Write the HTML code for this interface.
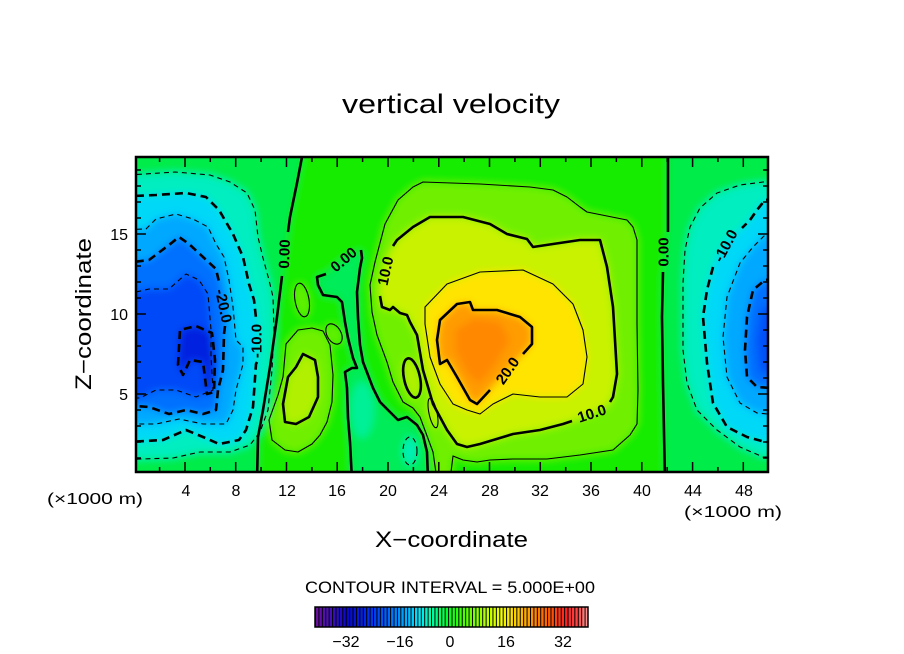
<!DOCTYPE html>
<html><head><meta charset="utf-8"><style>html,body{margin:0;padding:0;background:#fff}svg{display:block}</style></head>
<body>
<svg width="904" height="654" viewBox="0 0 904 654" xmlns="http://www.w3.org/2000/svg" font-family="'Liberation Sans', sans-serif">
<defs>
  <clipPath id="pc"><rect x="136" y="157" width="632" height="315"/></clipPath>
  <filter id="bl" filterUnits="userSpaceOnUse" x="80" y="120" width="760" height="400"><feGaussianBlur stdDeviation="4"/></filter>
  <linearGradient id="cb" x1="0" x2="1" y1="0" y2="0">
    <stop offset="0" stop-color="#7010a0"/><stop offset="0.06" stop-color="#4010b8"/>
    <stop offset="0.12" stop-color="#0808c8"/><stop offset="0.2" stop-color="#0030f0"/>
    <stop offset="0.27" stop-color="#0068ff"/><stop offset="0.33" stop-color="#00a8ff"/>
    <stop offset="0.38" stop-color="#00e8ff"/><stop offset="0.43" stop-color="#00ffa0"/>
    <stop offset="0.49" stop-color="#00ff20"/><stop offset="0.55" stop-color="#50ff00"/>
    <stop offset="0.62" stop-color="#b0ff00"/><stop offset="0.68" stop-color="#f0ff00"/>
    <stop offset="0.72" stop-color="#ffe000"/><stop offset="0.78" stop-color="#ffa000"/>
    <stop offset="0.85" stop-color="#ff6000"/><stop offset="0.92" stop-color="#ff2020"/>
    <stop offset="0.97" stop-color="#ff5050"/><stop offset="1" stop-color="#ffa0a0"/>
  </linearGradient>
  <pattern id="st" width="3.4125" height="20" patternUnits="userSpaceOnUse" x="315" y="607"><rect width="1" height="20" fill="#000"/></pattern>
</defs>

<!-- Title -->
<text x="342" y="113" font-size="27" textLength="218" lengthAdjust="spacingAndGlyphs">vertical velocity</text>

<!-- Field fill -->
<g clip-path="url(#pc)">
 <g filter="url(#bl)">
  <rect x="90" y="130" width="740" height="380" fill="#14ec00"/>
  <polygon fill="#00ec48" points="100,140 304,140 302,157 297,183 290,217 286,250 282,277 277,317 270,367 263,410 258,437 257,490 100,490"/>
  <polygon fill="#00ec48" points="668,140 668,230 663,277 662,317 663,383 665,490 800,490 800,140"/>
  <polygon fill="#00ec58" points="326,274 317,277 318,285 323,295 337,297 342,302 345,322 348,338 353,358 357,368 352,368 345,372 347,388 348,418 350,442 352,490 428,490 427,452 423,435 417,425 407,417 398,420 390,412 380,402 373,388 368,375 363,362 360,345 358,318 357,292 360,268 362,258 361,250 345,258"/>
  <ellipse cx="362" cy="410" rx="12" ry="28" fill="#00f098"/>
  <ellipse cx="410" cy="451" rx="7" ry="14" fill="#00f0b8"/>

  <polygon fill="#00eec0" points="110,176 145,174 175,172 210,175 230,182 247,193 255,210 258,237 263,258 269,280 273,297 274,330 272,370 268,410 260,432 250,445 230,452 200,452 173,458 110,460"/>
  <polygon fill="#00d8f8" points="110,197 156,195 186,193 206,197 219,210 233,234 243,257 249,284 254,300 258,324 258,345 256,364 253,407 246,430 239,440 219,444 203,437 186,430 163,440 110,443"/>
  <polygon fill="#00a8ff" points="110,230 146,229 156,219 176,214 193,219 208,227 216,244 224,257 229,280 233,307 236,340 243,347 243,364 236,390 233,410 226,424 203,424 179,419 156,424 110,424"/>
  <polygon fill="#0070ff" points="110,265 149,260 169,245 179,237 189,244 203,257 216,269 222,287 225,320 224,334 223,370 218,390 216,410 203,414 186,410 169,414 149,407 110,404"/>
  <polygon fill="#0048f8" points="110,298 149,289 169,289 186,274 199,280 208,294 211,330 211,357 213,390 196,397 176,390 156,390 140,398 110,398"/>
  <polygon fill="#0020e0" points="178,365 180,330 196,326 212,333 215,360 214,392 207,394 203,362 190,360 183,375"/>

  <polygon fill="#00eec0" points="800,182 763,182 740,185 717,193 700,208 690,227 685,250 683,283 683,350 687,383 697,410 717,430 740,447 763,457 800,457"/>
  <polygon fill="#00d8f8" points="800,198 765,200 757,210 750,220 740,230 727,240 717,258 713,267 707,290 703,317 707,363 713,403 727,427 747,437 765,442 800,442"/>
  <polygon fill="#00a8ff" points="800,233 765,235 753,247 740,263 727,297 723,337 727,377 740,403 757,413 800,417"/>
  <polygon fill="#0070ff" points="800,278 765,280 753,290 747,317 745,350 747,377 757,387 800,390"/>
  <polygon fill="#0050f8" points="800,300 762,308 756,340 760,372 800,378"/>

  <polygon fill="#70f000" points="385,224 398,200 413,187 423,182 480,184 530,187 553,190 567,197 580,207 587,212 627,220 633,227 637,240 637,324 638,390 637,424 630,435 613,450 580,455 547,459 513,459 490,460 477,462 463,460 453,456 450,480 437,480 433,452 420,417 413,408 403,402 393,382 387,362 377,335 372,312 370,285 375,262"/>
  <polygon fill="#c8f200" points="388,255 397,240 413,227 430,217 463,217 490,224 507,234 527,239 533,247 553,244 580,240 600,240 607,267 613,307 615,340 617,374 613,397 608,405 592,414 575,420 563,424 540,430 513,434 480,444 467,447 457,444 447,430 433,404 423,370 417,335 410,322 407,315 400,313 393,307 390,310 382,307 379,290 383,271"/>
  <polygon fill="#ffe400" points="425,307 447,284 480,272 523,270 553,284 573,304 583,330 587,357 583,384 567,397 540,397 513,394 493,404 480,414 467,410 453,404 440,384 430,357 425,324"/>
  <polygon fill="#ff9c00" points="440,320 457,304 470,302 473,310 497,310 520,317 532,327 532,344 523,354 508,370 490,390 477,404 470,400 457,377 447,360 440,364 437,340"/>
  <polygon fill="#ff8800" points="455,330 475,318 500,322 510,340 495,365 478,385 465,370 455,350"/>

  <polygon fill="#70f000" points="286,344 298,330 312,328 323,331 330,345 333,375 332,402 327,422 320,435 312,444 298,452 285,450 272,440 269,420 278,395 283,377"/>
  <polygon fill="#b0f000" points="303,354 315,360 318,377 318,397 309,417 296,424 285,422 283,404 288,377 296,367"/>
  <ellipse cx="302" cy="300" rx="7" ry="17" transform="rotate(-10 302 300)" fill="#60f000"/>
  <ellipse cx="334" cy="334" rx="7" ry="11" transform="rotate(-30 334 334)" fill="#60f000"/>
  <ellipse cx="412" cy="378" rx="8" ry="20" transform="rotate(-12 412 378)" fill="#b0f000"/>
  <ellipse cx="433" cy="413" rx="4" ry="15" transform="rotate(-12 433 413)" fill="#b8f000"/>
 </g>
</g>

<!-- Contour lines -->
<g clip-path="url(#pc)" fill="none" stroke="#000" stroke-linejoin="round">
  <g stroke-width="1.1" stroke-dasharray="5 4">
    <polygon points="110,176 145,174 175,172 210,175 230,182 247,193 255,210 258,237 263,258 269,280 273,297 274,330 272,370 268,410 260,432 250,445 230,452 200,452 173,458 110,460"/>
    <polygon points="110,230 146,229 156,219 176,214 193,219 208,227 216,244 224,257 229,280 233,307 236,340 243,347 243,364 236,390 233,410 226,424 203,424 179,419 156,424 110,424"/>
    <polygon points="110,298 149,289 169,289 186,274 199,280 208,294 211,330 211,357 213,390 196,397 176,390 156,390 140,398 110,398"/>
    <polygon points="800,182 763,182 740,185 717,193 700,208 690,227 685,250 683,283 683,350 687,383 697,410 717,430 740,447 763,457 800,457"/>
    <polygon points="800,233 765,235 753,247 740,263 727,297 723,337 727,377 740,403 757,413 800,417"/>
    <ellipse cx="410" cy="451" rx="7" ry="14"/>
  </g>
  <g stroke-width="2.6" stroke-dasharray="8 5">
    <polyline points="110,197 156,195 186,193 206,197 219,210 233,234 243,257 249,284 254,300 256,318"/>
    <polyline points="257,362 256,364 253,407 246,430 239,440 219,444 203,437 186,430 163,440 110,443"/>
    <polyline points="110,265 149,260 169,245 179,237 189,244 203,257 216,269 219,282"/>
    <polyline points="225,326 224,334 223,370 218,390 216,410 203,414 186,410 169,414 149,407 110,404"/>
    <polygon points="178,365 180,330 196,326 212,333 215,360 214,392 207,394 203,362 190,360 183,375"/>
    <polyline points="800,198 765,200 757,210 750,220 742,228"/>
    <polyline points="713,267 707,290 703,317 707,363 713,403 727,427 747,437 765,442 800,442"/>
    <polyline points="800,278 765,280 753,290 747,317 745,350 747,377 757,387 800,390"/>
  </g>
  <g stroke-width="1.1">
    <polyline points="437,480 433,452 420,417 413,408 403,402 393,382 387,362 377,335 372,312 370,285 375,262 385,224 398,200 413,187 423,182 480,184 530,187 553,190 567,197 580,207 587,212 627,220 633,227 637,240 637,324 638,390 637,424 630,435 613,450 580,455 547,459 513,459 490,460 477,462 463,460 453,456 450,480"/>
    <polygon points="425,307 447,284 480,272 523,270 553,284 573,304 583,330 587,357 583,384 567,397 540,397 513,394 493,404 480,414 467,410 453,404 440,384 430,357 425,324"/>
    <polygon points="286,344 298,330 312,328 323,331 330,345 333,375 332,402 327,422 320,435 312,444 298,452 285,450 272,440 269,420 278,395 283,377"/>
    <ellipse cx="302" cy="300" rx="7" ry="17" transform="rotate(-10 302 300)"/>
    <ellipse cx="334" cy="334" rx="7" ry="11" transform="rotate(-30 334 334)"/>
    <ellipse cx="433" cy="413" rx="4" ry="15" transform="rotate(-12 433 413)"/>
  </g>
  <g stroke-width="2.6">
    <polyline points="302,150 302,157 297,183 290,217 288,232"/>
    <polyline points="282,276 277,317 270,367 263,410 258,437 257,480"/>
    <polyline points="326,274 317,277 318,285 323,295 337,297 342,302 345,322 348,338 353,358 357,368 352,368 345,372 347,388 348,418 350,442 352,480"/>
    <polyline points="361,250 362,258 360,268 357,292 358,318 360,345 363,362 368,375 373,388 380,402 390,412 398,420 407,417 417,425 423,435 427,452 428,480"/>
    <polyline points="668,150 668,232"/>
    <polyline points="663,272 662,317 663,383 665,480"/>
    <polyline points="393,246 397,240 413,227 430,217 463,217 490,224 507,234 527,239 533,247 553,244 580,240 600,240 607,267 613,307 615,340 617,374 613,397 610,402"/>
    <polyline points="572,421 563,424 540,430 513,434 480,444 467,447 457,444 447,430 433,404 423,370 417,335 410,322 407,315 400,313 393,307 390,310 382,307 380,296"/>
    <polyline points="490,390 477,404 470,400 457,377 447,360 440,364 437,340 440,320 457,304 470,302 473,310 497,310 520,317 532,327 532,344 523,354"/>
    <polygon points="303,354 315,360 318,377 318,397 309,417 296,424 285,422 283,404 288,377 296,367"/>
    <ellipse cx="412" cy="378" rx="8" ry="20" transform="rotate(-12 412 378)"/>
  </g>
</g>

<!-- Contour labels -->
<g font-size="15" font-weight="bold" fill="#000" text-anchor="middle" dominant-baseline="central">
  <text transform="translate(285,254) rotate(-88)">0.00</text>
  <text transform="translate(344,260) rotate(-40)">0.00</text>
  <text transform="translate(257,341) rotate(-90)">-10.0</text>
  <text transform="translate(223,306) rotate(78)">-20.0</text>
  <text transform="translate(726,246) rotate(-62)">-10.0</text>
  <text transform="translate(386,271) rotate(-78)">10.0</text>
  <text transform="translate(508,371) rotate(-55)">20.0</text>
  <text transform="translate(592,414) rotate(-18)">10.0</text>
  <text transform="translate(664,252) rotate(-90)">0.00</text>
</g>

<!-- Ticks -->
<g stroke="#000" stroke-width="1.5">
  <path d="M185,472v-10M235.7,472v-10M286.5,472v-10M337.2,472v-10M388,472v-10M438.8,472v-10M489.5,472v-10M540.3,472v-10M591,472v-10M641.8,472v-10M692.6,472v-10M743.3,472v-10
           M185,157v10M235.7,157v10M286.5,157v10M337.2,157v10M388,157v10M438.8,157v10M489.5,157v10M540.3,157v10M591,157v10M641.8,157v10M692.6,157v10M743.3,157v10"/>
  <path d="M159.6,472v-5M210.3,472v-5M261.1,472v-5M311.9,472v-5M362.6,472v-5M413.4,472v-5M464.1,472v-5M514.9,472v-5M565.7,472v-5M616.4,472v-5M667.2,472v-5M717.9,472v-5
           M159.6,157v5M210.3,157v5M261.1,157v5M311.9,157v5M362.6,157v5M413.4,157v5M464.1,157v5M514.9,157v5M565.7,157v5M616.4,157v5M667.2,157v5M717.9,157v5"/>
  <path d="M136,394h10M136,314h10M136,234h10M768,394h-10M768,314h-10M768,234h-10"/>
  <path d="M136,458h5M136,442h5M136,426h5M136,410h5M136,378h5M136,362h5M136,346h5M136,330h5M136,298h5M136,282h5M136,266h5M136,250h5M136,218h5M136,202h5M136,186h5M136,170h5
           M768,458h-5M768,442h-5M768,426h-5M768,410h-5M768,378h-5M768,362h-5M768,346h-5M768,330h-5M768,298h-5M768,282h-5M768,266h-5M768,250h-5M768,218h-5M768,202h-5M768,186h-5M768,170h-5"/>
</g>

<!-- Frame -->
<rect x="136" y="157" width="632" height="315" fill="none" stroke="#000" stroke-width="2.5"/>

<!-- Tick labels -->
<g font-size="16" fill="#000" text-anchor="middle">
  <text x="186" y="496">4</text>
  <text x="236" y="496">8</text>
  <text x="287" y="496">12</text>
  <text x="337" y="496">16</text>
  <text x="388" y="496">20</text>
  <text x="439" y="496">24</text>
  <text x="490" y="496">28</text>
  <text x="540" y="496">32</text>
  <text x="591" y="496">36</text>
  <text x="642" y="496">40</text>
  <text x="693" y="496">44</text>
  <text x="744" y="496">48</text>
</g>
<g font-size="16" fill="#000" text-anchor="end">
  <text x="128" y="400">5</text>
  <text x="128" y="320">10</text>
  <text x="128" y="240">15</text>
</g>
<text x="47" y="504" font-size="16" textLength="96" lengthAdjust="spacingAndGlyphs">(×1000 m)</text>
<text x="684" y="517" font-size="16" textLength="98" lengthAdjust="spacingAndGlyphs">(×1000 m)</text>

<!-- Axis titles -->
<text x="375" y="547" font-size="22" textLength="153" lengthAdjust="spacingAndGlyphs">X−coordinate</text>
<text transform="translate(91,390) rotate(-90)" font-size="22" textLength="152" lengthAdjust="spacingAndGlyphs">Z−coordinate</text>

<!-- Contour interval -->
<text x="305" y="593" font-size="17" textLength="290" lengthAdjust="spacingAndGlyphs">CONTOUR INTERVAL = 5.000E+00</text>

<!-- Colorbar -->
<rect x="315" y="607" width="273" height="20" fill="url(#cb)"/>
<rect x="315" y="607" width="273" height="20" fill="url(#st)"/>
<rect x="315" y="607" width="273" height="20" fill="none" stroke="#000" stroke-width="1.5"/>
<g font-size="16" fill="#000" text-anchor="middle">
  <text x="346" y="647">−32</text>
  <text x="400" y="647">−16</text>
  <text x="450" y="647">0</text>
  <text x="506" y="647">16</text>
  <text x="563" y="647">32</text>
</g>
</svg>
</body></html>
